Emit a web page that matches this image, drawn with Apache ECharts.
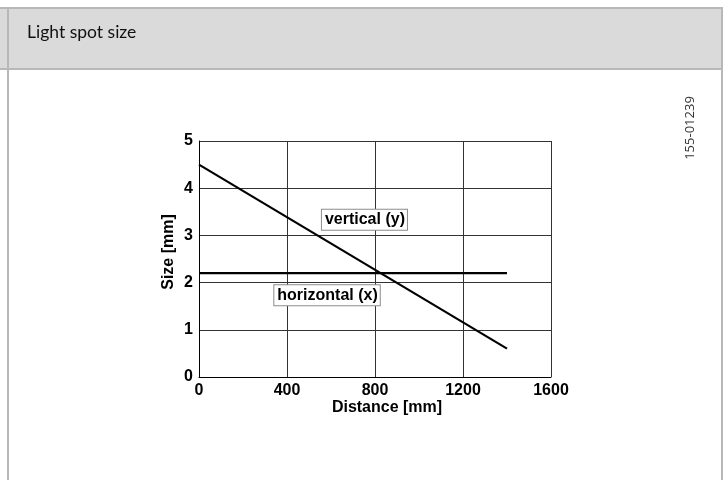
<!DOCTYPE html>
<html>
<head>
<meta charset="utf-8">
<script src="https://cdn.jsdelivr.net/npm/echarts@6/dist/echarts.min.js"></script>
<style>html,body{margin:0;padding:0;background:#fff}#c{width:728px;height:480px}</style>
</head>
<body>
<div id="c"></div>
<script>
var title = 'Light spot size';
var docId = '155-01239';
var xTicks = [0, 400, 800, 1200, 1600];
var yTicks = [0, 1, 2, 3, 4, 5];
var verticalX = [0, 1400];
var verticalY = [4.5, 0.6];
var horizontalX = [0, 500, 1000, 1400];
var horizontalY = [2.2, 2.2, 2.2, 2.2];
var verticalLabel = {text: 'vertical (y)', x: 752, y: 3.33};
var horizontalLabel = {text: 'horizontal (x)', x: 582, y: 1.73};

function pairs(xs, ys) { return xs.map(function (x, i) { return [x, ys[i]]; }); }

var font = 'Liberation Sans, Arial, sans-serif';
var frameColor = '#b8b8b8';
var boxLabel = function (t) {
  return {
    show: true, formatter: t, position: 'inside',
    color: '#000', fontFamily: font, fontWeight: 'bold', fontSize: 16,
    backgroundColor: '#fff', borderColor: '#8c8c8c', borderWidth: 1,
    padding: [3, 2, 1, 3]
  };
};

var chart = echarts.init(document.getElementById('c'), null, {renderer: 'canvas'});
chart.setOption({
  animation: false,
  backgroundColor: '#fff',
  graphic: [
    {type: 'rect', shape: {x: 0, y: 8, width: 722, height: 61}, style: {fill: '#dadada'}, z: -10},
    {type: 'line', shape: {x1: 0, y1: 8, x2: 723, y2: 8}, style: {stroke: frameColor, lineWidth: 2}},
    {type: 'line', shape: {x1: 0, y1: 69, x2: 723, y2: 69}, style: {stroke: frameColor, lineWidth: 2}},
    {type: 'line', shape: {x1: 8, y1: 8, x2: 8, y2: 480}, style: {stroke: frameColor, lineWidth: 2}},
    {type: 'line', shape: {x1: 722, y1: 8, x2: 722, y2: 480}, style: {stroke: frameColor, lineWidth: 2}},
    {type: 'text', left: 27, top: 23, style: {text: title, font: '17.5px Lato, "Open Sans", sans-serif', fill: '#111'}},
    {type: 'text', x: 690, y: 128, rotation: Math.PI / 2,
      style: {text: docId, font: '13px "Open Sans", Lato, sans-serif', fill: '#333', align: 'center', verticalAlign: 'middle'}}
  ],
  grid: {left: 199, right: 177, top: 141, bottom: 103, containLabel: false},
  xAxis: {
    type: 'value', min: xTicks[0], max: xTicks[xTicks.length - 1], interval: 400,
    name: 'Distance [mm]', nameLocation: 'middle', nameGap: 22,
    nameTextStyle: {color: '#000', fontFamily: font, fontWeight: 'bold', fontSize: 16, padding: [0, 0, 0, 24]},
    axisLine: {show: true, lineStyle: {color: '#000', width: 1}},
    axisTick: {show: false},
    axisLabel: {color: '#000', fontFamily: font, fontWeight: 'bold', fontSize: 16, margin: 6,
      formatter: function (v) { return String(v); }},
    splitLine: {show: true, lineStyle: {color: '#333', width: 1}}
  },
  yAxis: {
    type: 'value', min: yTicks[0], max: yTicks[yTicks.length - 1], interval: 1,
    name: 'Size [mm]', nameLocation: 'middle', nameGap: 22, nameRotate: 90,
    nameTextStyle: {color: '#000', fontFamily: font, fontWeight: 'bold', fontSize: 16, padding: [0, 0, 0, 14]},
    axisLine: {show: true, lineStyle: {color: '#000', width: 1}},
    axisTick: {show: false},
    axisLabel: {color: '#000', fontFamily: font, fontWeight: 'bold', fontSize: 16, margin: 6,
      formatter: function (v) { return String(v); }},
    splitLine: {show: true, lineStyle: {color: '#333', width: 1}}
  },
  series: [
    {
      type: 'line', name: 'vertical', data: pairs(verticalX, verticalY),
      showSymbol: false, symbol: 'none', lineStyle: {color: '#000', width: 2.2}, z: 3,
      markPoint: {
        symbol: 'rect', symbolSize: 0, silent: true,
        data: [{coord: [verticalLabel.x, verticalLabel.y], label: boxLabel(verticalLabel.text)}]
      }
    },
    {
      type: 'line', name: 'horizontal', data: pairs(horizontalX, horizontalY),
      showSymbol: false, symbol: 'none', lineStyle: {color: '#000', width: 2.2}, z: 3,
      markPoint: {
        symbol: 'rect', symbolSize: 0, silent: true,
        data: [{coord: [horizontalLabel.x, horizontalLabel.y], label: boxLabel(horizontalLabel.text)}]
      }
    }
  ]
});
</script>
</body>
</html>
